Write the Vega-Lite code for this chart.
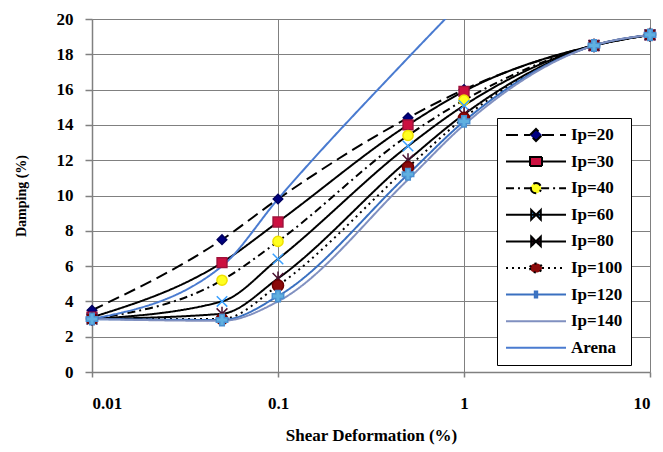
{
  "$schema": "https://vega.github.io/schema/vega-lite/v6.json",
  "width": 558,
  "height": 353,
  "autosize": "none",
  "padding": {"left": 92, "top": 19, "right": 13, "bottom": 80},
  "background": "white",
  "data": {
    "values": [
      {"s": "Ip=20", "x": 0.01, "y": 3.5}, {"s": "Ip=20", "x": 0.05, "y": 7.5}, {"s": "Ip=20", "x": 0.1, "y": 9.8}, {"s": "Ip=20", "x": 0.5, "y": 14.4}, {"s": "Ip=20", "x": 1, "y": 16.0}, {"s": "Ip=20", "x": 5, "y": 18.5}, {"s": "Ip=20", "x": 10, "y": 19.1},
      {"s": "Ip=30", "x": 0.01, "y": 3.1}, {"s": "Ip=30", "x": 0.05, "y": 6.2}, {"s": "Ip=30", "x": 0.1, "y": 8.5}, {"s": "Ip=30", "x": 0.5, "y": 14.0}, {"s": "Ip=30", "x": 1, "y": 15.9}, {"s": "Ip=30", "x": 5, "y": 18.5}, {"s": "Ip=30", "x": 10, "y": 19.1},
      {"s": "Ip=40", "x": 0.01, "y": 3.0}, {"s": "Ip=40", "x": 0.05, "y": 5.2}, {"s": "Ip=40", "x": 0.1, "y": 7.4}, {"s": "Ip=40", "x": 0.5, "y": 13.4}, {"s": "Ip=40", "x": 1, "y": 15.4}, {"s": "Ip=40", "x": 5, "y": 18.5}, {"s": "Ip=40", "x": 10, "y": 19.1},
      {"s": "Ip=60", "x": 0.01, "y": 3.0}, {"s": "Ip=60", "x": 0.05, "y": 4.0}, {"s": "Ip=60", "x": 0.1, "y": 6.4}, {"s": "Ip=60", "x": 0.5, "y": 12.8}, {"s": "Ip=60", "x": 1, "y": 15.1}, {"s": "Ip=60", "x": 5, "y": 18.5}, {"s": "Ip=60", "x": 10, "y": 19.1},
      {"s": "Ip=80", "x": 0.01, "y": 3.0}, {"s": "Ip=80", "x": 0.05, "y": 3.3}, {"s": "Ip=80", "x": 0.1, "y": 5.3}, {"s": "Ip=80", "x": 0.5, "y": 12.0}, {"s": "Ip=80", "x": 1, "y": 14.6}, {"s": "Ip=80", "x": 5, "y": 18.5}, {"s": "Ip=80", "x": 10, "y": 19.1},
      {"s": "Ip=100", "x": 0.01, "y": 3.0}, {"s": "Ip=100", "x": 0.05, "y": 3.0}, {"s": "Ip=100", "x": 0.1, "y": 4.9}, {"s": "Ip=100", "x": 0.5, "y": 11.6}, {"s": "Ip=100", "x": 1, "y": 14.4}, {"s": "Ip=100", "x": 5, "y": 18.5}, {"s": "Ip=100", "x": 10, "y": 19.1},
      {"s": "Ip=120", "x": 0.01, "y": 3.0}, {"s": "Ip=120", "x": 0.05, "y": 2.95}, {"s": "Ip=120", "x": 0.1, "y": 4.3}, {"s": "Ip=120", "x": 0.5, "y": 11.2}, {"s": "Ip=120", "x": 1, "y": 14.2}, {"s": "Ip=120", "x": 5, "y": 18.5}, {"s": "Ip=120", "x": 10, "y": 19.1},
      {"s": "Ip=140", "x": 0.01, "y": 3.0}, {"s": "Ip=140", "x": 0.05, "y": 2.9}, {"s": "Ip=140", "x": 0.1, "y": 4.0}, {"s": "Ip=140", "x": 0.5, "y": 10.9}, {"s": "Ip=140", "x": 1, "y": 14.0}, {"s": "Ip=140", "x": 5, "y": 18.5}, {"s": "Ip=140", "x": 10, "y": 19.1},
      {"s": "Arena", "x": 0.01, "y": 3.0}, {"s": "Arena", "x": 0.05, "y": 6.0}, {"s": "Arena", "x": 0.1, "y": 9.8}, {"s": "Arena", "x": 0.5, "y": 17.8}, {"s": "Arena", "x": 1, "y": 21.1}
    ]
  },
  "encoding": {
    "x": {
      "field": "x", "type": "quantitative",
      "scale": {"type": "log", "domain": [0.01, 10]},
      "axis": {
        "values": [0.01, 0.1, 1, 10], "format": "~g", "title": "Shear Deformation (%)",
        "grid": true, "tickSize": 5, "labelPadding": 18, "titlePadding": 16, "titleFontSize": 17
      }
    },
    "y": {
      "field": "y", "type": "quantitative",
      "scale": {"domain": [0, 20], "nice": false},
      "axis": {
        "values": [0, 2, 4, 6, 8, 10, 12, 14, 16, 18, 20], "title": "Damping (%)",
        "grid": true, "tickSize": 7, "labelPadding": 12, "titlePadding": 28, "titleFontSize": 14
      }
    }
  },
  "layer": [
    {
      "mark": {"type": "line", "interpolate": "monotone", "clip": true},
      "encoding": {
        "detail": {"field": "s"},
        "stroke": {
          "field": "s", "type": "nominal", "legend": null,
          "scale": {
            "domain": ["Ip=20", "Ip=30", "Ip=40", "Ip=60", "Ip=80", "Ip=100", "Ip=120", "Ip=140", "Arena"],
            "range": ["#000000", "#000000", "#000000", "#000000", "#000000", "#000000", "#3a70c0", "#8090c0", "#4a7bd0"]
          }
        },
        "strokeDash": {
          "field": "s", "type": "nominal", "legend": null,
          "scale": {
            "domain": ["Ip=20", "Ip=30", "Ip=40", "Ip=60", "Ip=80", "Ip=100", "Ip=120", "Ip=140", "Arena"],
            "range": [[12, 6], [1, 0], [8, 4, 2, 4], [1, 0], [1, 0], [2, 4], [1, 0], [1, 0], [1, 0]]
          }
        },
        "strokeWidth": {
          "field": "s", "type": "nominal", "legend": null,
          "scale": {
            "domain": ["Ip=20", "Ip=30", "Ip=40", "Ip=60", "Ip=80", "Ip=100", "Ip=120", "Ip=140", "Arena"],
            "range": [2, 2, 2, 2, 2, 2, 1, 1.3, 2]
          }
        }
      }
    },
    {
      "transform": [{"filter": "datum.s !== 'Ip=140' && datum.s !== 'Arena'"}],
      "mark": {"type": "point", "filled": true, "strokeWidth": 1.5, "opacity": 1},
      "encoding": {
        "shape": {
          "field": "s", "type": "nominal", "legend": null,
          "scale": {
            "domain": ["Ip=20", "Ip=30", "Ip=40", "Ip=60", "Ip=80", "Ip=100", "Ip=120"],
            "range": ["diamond", "square", "circle", "M-1,-1L1,1M-1,1L1,-1", "M-1,-1L1,1M-1,1L1,-1M0,-1.3L0,1.3", "circle", "cross"]
          }
        },
        "fill": {
          "field": "s", "type": "nominal", "legend": null,
          "scale": {
            "domain": ["Ip=20", "Ip=30", "Ip=40", "Ip=60", "Ip=80", "Ip=100", "Ip=120"],
            "range": ["#000080", "#cc1040", "#ffff20", "#40b0ff", "#501030", "#8b0a0a", "#60b0e0"]
          }
        },
        "stroke": {
          "field": "s", "type": "nominal", "legend": null,
          "scale": {
            "domain": ["Ip=20", "Ip=30", "Ip=40", "Ip=60", "Ip=80", "Ip=100", "Ip=120"],
            "range": ["#000060", "#a0103a", "#f0e000", "#3aa0ff", "#4a1030", "#700000", "#4a90d0"]
          }
        },
        "size": {
          "field": "s", "type": "nominal", "legend": null,
          "scale": {
            "domain": ["Ip=20", "Ip=30", "Ip=40", "Ip=60", "Ip=80", "Ip=100", "Ip=120"],
            "range": [90, 130, 110, 60, 70, 150, 40]
          }
        }
      }
    },
    {
      "mark": {"type": "point", "filled": true, "opacity": 0},
      "encoding": {
        "shape": {
          "field": "s", "type": "nominal",
          "scale": {
            "domain": ["Ip=20", "Ip=30", "Ip=40", "Ip=60", "Ip=80", "Ip=100", "Ip=120", "Ip=140", "Arena"],
            "range": [
              "M-1,0L-0.2,0M0.2,0L1,0M-0.2,0L0,-0.2L0.2,0L0,0.2Z",
              "M-1,0L-0.2,0M0.2,0L1,0M-0.2,-0.15L0.2,-0.15L0.2,0.15L-0.2,0.15Z",
              "M-1,0L-0.17,0M0.17,0L1,0M-0.17,0A0.17,0.17,0,1,0,0.17,0A0.17,0.17,0,1,0,-0.17,0Z",
              "M-1,0L1,0M-0.16,-0.16L0.16,0.16L0.16,-0.16L-0.16,0.16Z",
              "M-1,0L1,0M-0.16,-0.16L0.16,0.16L0.16,-0.16L-0.16,0.16Z",
              "M-1,0L-0.2,0M0.2,0L1,0M-0.2,0A0.2,0.15,0,1,0,0.2,0A0.2,0.15,0,1,0,-0.2,0Z",
              "M-1,0L1,0M-0.04,-0.1L0.04,-0.1L0.04,0.1L-0.04,0.1Z",
              "M-1,0L1,0",
              "M-1,0L1,0"
            ]
          },
          "legend": {"title": null, "orient": "none", "legendX": 405, "legendY": 99, "strokeColor": "#000000", "fillColor": "#ffffff", "padding": 8, "symbolSize": 3600, "clipHeight": 18, "symbolStrokeWidth": 2, "symbolOpacity": 1, "labelFont": "Liberation Serif", "labelFontWeight": "bold", "labelFontSize": 17, "labelColor": "#000000", "labelOffset": 4, "rowPadding": 8.6, "labelLimit": 200}
        },
        "fill": {
          "field": "s", "type": "nominal",
          "scale": {
            "domain": ["Ip=20", "Ip=30", "Ip=40", "Ip=60", "Ip=80", "Ip=100", "Ip=120", "Ip=140", "Arena"],
            "range": ["#000080", "#cc1040", "#ffff20", "#40b0ff", "#501030", "#8b0a0a", "#60b0e0", "transparent", "transparent"]
          },
          "legend": {"title": null, "orient": "none", "legendX": 405, "legendY": 99, "strokeColor": "#000000", "fillColor": "#ffffff", "padding": 8, "symbolSize": 3600, "clipHeight": 18, "symbolStrokeWidth": 2, "symbolOpacity": 1, "labelFont": "Liberation Serif", "labelFontWeight": "bold", "labelFontSize": 17, "labelColor": "#000000", "labelOffset": 4, "rowPadding": 8.6, "labelLimit": 200}
        },
        "stroke": {
          "field": "s", "type": "nominal",
          "scale": {
            "domain": ["Ip=20", "Ip=30", "Ip=40", "Ip=60", "Ip=80", "Ip=100", "Ip=120", "Ip=140", "Arena"],
            "range": ["#000000", "#000000", "#000000", "#000000", "#000000", "#000000", "#3a70c0", "#8090c0", "#4a7bd0"]
          },
          "legend": {"title": null, "orient": "none", "legendX": 405, "legendY": 99, "strokeColor": "#000000", "fillColor": "#ffffff", "padding": 8, "symbolSize": 3600, "clipHeight": 18, "symbolStrokeWidth": 2, "symbolOpacity": 1, "labelFont": "Liberation Serif", "labelFontWeight": "bold", "labelFontSize": 17, "labelColor": "#000000", "labelOffset": 4, "rowPadding": 8.6, "labelLimit": 200}
        },
        "strokeDash": {
          "field": "s", "type": "nominal",
          "scale": {
            "domain": ["Ip=20", "Ip=30", "Ip=40", "Ip=60", "Ip=80", "Ip=100", "Ip=120", "Ip=140", "Arena"],
            "range": [[12, 6], [1, 0], [8, 4, 2, 4], [1, 0], [1, 0], [2, 4], [1, 0], [1, 0], [1, 0]]
          },
          "legend": {"title": null, "orient": "none", "legendX": 405, "legendY": 99, "strokeColor": "#000000", "fillColor": "#ffffff", "padding": 8, "symbolSize": 3600, "clipHeight": 18, "symbolStrokeWidth": 2, "symbolOpacity": 1, "labelFont": "Liberation Serif", "labelFontWeight": "bold", "labelFontSize": 17, "labelColor": "#000000", "labelOffset": 4, "rowPadding": 8.6, "labelLimit": 200}
        }
      }
    }
  ],
  "resolve": {
    "scale": {"stroke": "independent", "fill": "independent", "shape": "independent", "strokeDash": "independent", "strokeWidth": "independent", "size": "independent"}
  },
  "config": {
    "view": {"stroke": null},
    "axis": {
      "labelFont": "Liberation Serif", "labelFontWeight": "bold", "labelFontSize": 17, "labelColor": "#000000",
      "titleFont": "Liberation Serif", "titleFontWeight": "bold", "titleColor": "#000000",
      "gridColor": "#808080", "gridOpacity": 1, "gridWidth": 1,
      "domainColor": "#808080", "domainWidth": 1.5, "tickColor": "#808080", "tickWidth": 1.5
    }
  }
}
